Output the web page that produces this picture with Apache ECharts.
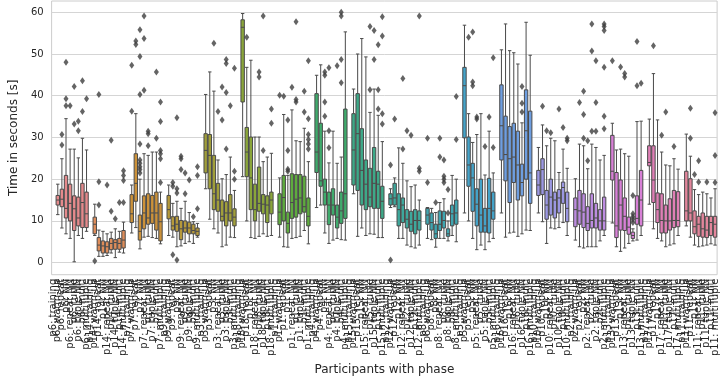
<!DOCTYPE html>
<html>
  <head>
    <meta charset="utf-8" />
    <title>Time per phase</title>
    <script src="https://cdn.jsdelivr.net/npm/echarts@6/dist/echarts.min.js"></script>
  </head>
  <body style="margin: 0">
    <div id="main" style="width: 720px; height: 381px"></div>
    <script type="text/javascript">
      // participants in plot order, phases per participant (first slot has no data)
      const participants = ["p6", "p14", "p7", "p9", "p3", "p18", "p1", "p4", "p15", "p12", "p8", "p5", "p16", "p10", "p2", "p13", "p17", "p11"];
      const phases = ["training", "warm-up", "repeat", "NN", "repeat NN", "tuple", "tuple NN", "multi", "multiTuple"];
      const yTicks = [0, 10, 20, 30, 40, 50, 60];

      // box stats per participant: [lower whisker, Q1, median, Q3, upper whisker]
      const p6Box = [[11.5, 13.8, 15.0, 16.1, 18.8], [8.3, 13.4, 15.2, 17.6, 24.9], [6.9, 10.7, 13.0, 20.9, 34.5], [5.8, 10.0, 14.2, 18.8, 27.2], [0.2, 7.7, 12.9, 16.0, 27.2], [6.5, 8.8, 10.7, 15.7, 25.1], [5.8, 8.4, 14.4, 19.0, 29.8], [7.5, 8.4, 11.7, 16.9, 27.0]];
      const p14Box = [[6.5, 6.9, 9.2, 10.9, 14.0], [1.5, 2.8, 4.2, 6.0, 7.8], [1.5, 2.3, 4.0, 5.2, 7.5], [1.7, 2.3, 3.8, 5.0, 6.9], [2.3, 3.1, 4.6, 5.8, 7.3], [1.2, 3.2, 4.8, 5.5, 8.1], [2.5, 3.2, 4.6, 5.8, 7.5], [2.3, 3.5, 5.4, 7.7, 9.7]];
      const p7Box = [[7.1, 9.6, 11.7, 16.3, 18.6], [8.4, 14.7, 19.0, 26.1, 35.7], [3.3, 5.4, 7.5, 11.4, 20.0], [6.1, 8.1, 11.9, 16.0, 26.1], [6.3, 9.2, 10.7, 16.5, 25.7], [6.0, 9.4, 11.9, 16.1, 26.5], [5.8, 7.8, 11.9, 16.9, 26.5], [4.5, 5.2, 9.8, 14.2, 16.9]];
      const p9Box = [[6.5, 10.5, 12.7, 16.1, 18.6], [6.1, 7.8, 8.8, 11.0, 14.2], [3.8, 7.5, 9.2, 11.1, 14.7], [4.0, 5.5, 8.1, 10.1, 13.0], [4.6, 7.3, 8.3, 10.0, 14.7], [5.0, 6.9, 8.3, 9.7, 12.0], [4.6, 6.9, 7.7, 9.2, 9.8], [6.1, 6.5, 7.5, 8.3, 9.4]];
      const p3Box = [[17.7, 21.5, 26.9, 30.9, 40.3], [10.4, 17.7, 25.7, 30.7, 45.7], [8.1, 12.7, 16.5, 25.7, 41.1], [7.1, 12.3, 15.0, 19.0, 24.6], [3.8, 10.0, 11.1, 15.0, 20.1], [4.2, 8.8, 11.9, 14.6, 21.1], [6.1, 10.0, 11.9, 16.3, 25.3], [6.0, 8.8, 10.9, 12.9, 17.3]];
      const p18Box = [[20.6, 38.5, 56.4, 58.2, 59.7], [10.0, 20.6, 26.5, 32.4, 46.8], [6.0, 12.7, 20.3, 30.1, 48.5], [5.8, 10.0, 12.7, 18.8, 30.1], [6.3, 12.3, 14.2, 22.9, 30.1], [6.9, 11.7, 14.0, 16.3, 24.2], [6.3, 9.6, 13.8, 16.0, 25.3], [6.5, 11.7, 15.0, 16.9, 26.2]];
      const p1Box = [[6.1, 9.1, 12.1, 16.5, 20.3], [3.8, 10.0, 15.6, 20.9, 35.5], [3.7, 7.1, 9.4, 12.1, 20.9], [5.8, 10.6, 14.4, 21.3, 36.6], [6.0, 10.9, 15.2, 21.1, 29.2], [6.3, 11.7, 15.5, 21.1, 29.0], [7.7, 12.1, 13.4, 20.7, 32.2], [4.5, 8.8, 11.1, 15.5, 24.2]];
      const p4Box = [[13.2, 21.6, 26.5, 40.5, 44.9], [13.8, 18.3, 19.6, 33.4, 47.4], [7.1, 13.8, 16.9, 20.0, 31.5], [4.6, 9.1, 13.8, 16.9, 23.9], [5.4, 11.4, 13.8, 17.7, 31.5], [5.8, 8.3, 10.9, 13.8, 23.8], [5.5, 9.4, 12.4, 16.9, 25.3], [5.4, 10.6, 16.5, 36.8, 55.3]];
      const p15Box = [[16.5, 18.6, 27.0, 35.7, 41.6], [6.3, 17.3, 30.9, 40.5, 50.0], [8.3, 13.8, 22.1, 32.1, 53.7], [6.5, 12.7, 18.8, 24.6, 49.3], [6.9, 13.4, 15.7, 22.6, 36.0], [6.8, 13.0, 19.0, 27.6, 41.6], [6.0, 13.0, 18.8, 21.9, 35.3], [6.0, 10.6, 14.7, 18.3, 29.0]];
      const p12Box = [[13.2, 13.8, 15.3, 16.5, 17.7], [13.4, 13.8, 15.5, 19.0, 20.3], [5.8, 8.8, 12.7, 16.5, 27.5], [5.8, 9.6, 13.8, 15.5, 23.8], [4.2, 8.3, 10.4, 12.7, 19.6], [3.8, 7.5, 9.2, 12.3, 18.2], [3.5, 6.9, 10.1, 12.7, 18.6], [4.2, 7.8, 10.1, 12.4, 15.0]];
      const p8Box = [[5.8, 9.2, 11.4, 13.0, 13.2], [5.5, 7.8, 9.6, 11.9, 13.0], [3.7, 5.8, 6.9, 9.2, 12.0], [5.8, 7.7, 9.2, 12.4, 14.4], [5.8, 8.3, 10.1, 12.3, 15.3], [5.2, 6.3, 6.9, 8.1, 10.0], [6.5, 8.8, 11.7, 13.8, 20.9], [5.0, 9.2, 11.9, 15.0, 20.0]];
      const p5Box = [[11.9, 29.9, 42.4, 46.8, 56.9], [10.0, 18.3, 23.4, 30.1, 35.7], [5.8, 12.3, 20.3, 23.8, 28.8], [3.1, 8.8, 14.0, 17.7, 30.7], [4.2, 7.3, 11.4, 20.0, 35.7], [3.1, 7.3, 8.8, 13.0, 21.0], [5.0, 7.1, 13.0, 20.2, 31.5], [5.8, 10.4, 12.4, 16.9, 21.5]];
      const p16Box = [[11.9, 24.6, 32.8, 42.6, 51.0], [6.1, 19.6, 25.9, 35.1, 57.2], [7.1, 14.4, 24.9, 32.6, 50.8], [7.3, 19.2, 25.3, 33.4, 50.3], [6.3, 15.0, 23.4, 31.5, 47.6], [6.9, 16.0, 19.2, 23.6, 33.5], [7.8, 20.0, 31.6, 41.4, 57.6], [7.7, 14.2, 21.5, 36.3, 49.7]];
      const p10Box = [[11.9, 16.1, 18.6, 22.1, 27.6], [9.8, 16.3, 22.3, 24.9, 33.0], [4.6, 10.4, 13.8, 17.3, 28.0], [8.3, 11.4, 15.7, 20.0, 29.8], [8.1, 10.7, 15.0, 16.9, 29.2], [8.4, 11.9, 15.5, 17.5, 21.6], [9.6, 14.2, 18.0, 19.3, 27.2], [6.5, 9.8, 13.0, 16.9, 22.6]];
      const p2Box = [[5.4, 8.6, 12.7, 15.5, 20.1], [3.8, 9.2, 12.4, 17.3, 28.4], [3.5, 8.4, 12.1, 16.5, 28.0], [3.8, 7.7, 9.4, 13.4, 22.5], [3.8, 8.3, 10.1, 16.5, 28.4], [3.8, 8.3, 10.7, 14.2, 27.6], [5.2, 7.8, 10.0, 12.7, 24.6], [6.5, 7.8, 10.0, 15.7, 25.7]];
      const p13Box = [[9.5, 19.8, 21.9, 30.5, 33.4], [3.8, 6.0, 8.8, 21.6, 27.0], [2.7, 7.8, 13.8, 19.8, 27.2], [3.5, 7.7, 11.1, 15.5, 26.1], [4.6, 6.8, 8.5, 10.9, 25.5], [5.2, 5.8, 6.5, 7.3, 8.1], [5.4, 9.2, 10.6, 16.0, 33.8], [6.5, 8.8, 15.0, 22.1, 33.9]];
      const p17Box = [[14.0, 23.2, 24.0, 28.0, 34.4], [8.1, 14.4, 19.8, 28.0, 45.3], [5.8, 9.6, 12.7, 16.7, 34.2], [5.2, 7.1, 10.1, 16.5, 26.5], [3.8, 7.1, 10.0, 13.8, 23.4], [4.2, 7.8, 10.0, 15.3, 23.2], [4.5, 8.4, 10.1, 17.3, 24.9], [6.5, 8.6, 10.1, 17.0, 22.4]];
      const p11Box = [[8.8, 10.0, 12.4, 21.9, 30.8], [6.1, 10.0, 11.9, 20.1, 25.5], [4.2, 6.9, 8.6, 12.4, 17.5], [3.8, 6.3, 9.2, 11.1, 16.3], [4.0, 6.1, 8.1, 11.9, 16.9], [4.2, 6.0, 7.8, 11.1, 16.5], [4.5, 6.5, 9.6, 11.1, 15.5], [4.2, 6.1, 9.2, 11.1, 17.7]];

      // outliers per box
      const p6Out = [[], [28.2, 30.7], [37.6, 39.3, 48.0], [37.6], [33.2, 42.2], [31.6, 33.9], [36.2, 43.6], [39.3]];
      const p14Out = [[0.4], [13.8, 19.4, 40.3], [], [18.6], [12.3, 29.3], [10.5], [14.4], [14.4, 19.7, 20.9, 22.0]];
      const p7Out = [[36.3, 47.3], [52.3, 53.1], [21.5, 22.3, 23.0, 23.8, 24.6, 28.4, 40.3, 49.4, 55.8], [41.3, 53.7, 59.1], [28.0, 30.9, 31.5], [], [29.8, 45.7], [19.2, 24.9, 26.1, 26.9, 33.8, 38.5]];
      const p9Out = [[], [1.9, 18.3, 19.2], [0.6, 16.7, 17.7, 34.7], [22.3, 24.9, 25.5], [16.5, 21.5], [19.8], [11.0], [12.9, 20.9, 23.0]];
      const p3Out = [[], [], [52.6], [36.2], [34.2, 42.1], [27.2, 40.8, 47.7, 48.7], [37.6], [20.0, 21.9, 46.6]];
      const p18Out = [[], [54.0], [], [], [44.5, 45.7], [26.9, 59.1], [], [33.4, 36.8]];
      const p1Out = [[40.1], [39.9], [21.9, 22.4, 26.9, 34.2], [42.0], [38.5, 39.1, 57.7], [], [36.1, 41.1], [27.2, 28.4, 29.5, 30.7, 34.5, 48.4]];
      const p4Out = [[], [], [35.1, 38.5, 44.9, 45.7], [27.5, 31.6, 46.7], [], [47.2], [43.1, 48.7, 59.1, 60.0], []];
      const p15Out = [[], [], [], [], [41.4, 56.6], [48.7, 55.6], [36.8, 41.4, 52.2], [33.2, 35.7, 54.3, 58.9]];
      const p12Out = [[0.6, 23.4], [34.4], [], [27.2, 44.1], [31.6], [30.5], [], [21.9, 22.6, 59.1]];
      const p8Out = [[19.2, 29.8], [], [14.4], [25.3, 29.8], [19.2, 20.0, 20.7, 24.6], [11.9, 17.5], [], [29.5, 39.8]];
      const p5Out = [[], [54.0], [42.4, 43.3, 55.3], [34.4, 34.9], [], [27.8], [34.9], [27.6, 49.1]];
      const p16Out = [[], [], [], [], [], [36.1, 38.2, 42.2], [], []];
      const p10Out = [[], [37.5], [31.6], [31.1], [], [36.8], [32.4], [29.2, 29.8]];
      const p2Out = [[], [38.4], [29.8, 35.5, 41.1], [24.4, 29.2], [31.5, 50.7, 57.2], [31.5, 38.4, 48.4], [], [32.1, 35.1, 46.8, 55.6, 56.6, 57.2]];
      const p13Out = [[48.4], [], [46.9], [44.5, 45.3], [], [9.6, 10.4, 11.0, 11.7, 16.1], [42.4, 53.0], [43.0]];
      const p17Out = [[], [52.0], [], [30.5], [36.1], [], [27.8], []];
      const p11Out = [[], [29.8, 37.0], [21.1], [19.3, 24.4], [], [19.3], [], [19.2, 25.7, 35.9]];

      const allBoxes = [p6Box, p14Box, p7Box, p9Box, p3Box, p18Box, p1Box, p4Box, p15Box, p12Box, p8Box, p5Box, p16Box, p10Box, p2Box, p13Box, p17Box, p11Box];
      const allOut = [p6Out, p14Out, p7Out, p9Out, p3Out, p18Out, p1Out, p4Out, p15Out, p12Out, p8Out, p5Out, p16Out, p10Out, p2Out, p13Out, p17Out, p11Out];

      const colors = ["#e58a8c", "#df8d5a", "#cc923a", "#b6993a", "#a19f3a", "#8aa53a", "#5eab3e", "#3fab6c", "#3da988", "#3da89c", "#3fa6b1", "#44a3c9", "#6e9ee0", "#9b97e2", "#bd8ce0", "#d780d6", "#e07fb6", "#e3869c"];

      const categories = [];
      const boxData = [];
      const outData = [];
      participants.forEach(function (p, i) {
        phases.forEach(function (ph, j) {
          categories.push(p + ": " + ph);
          const idx = categories.length - 1;
          if (j === 0) {
            boxData.push({ value: ["-", "-", "-", "-", "-"] });
            return;
          }
          boxData.push({ value: allBoxes[i][j - 1], itemStyle: { color: colors[i] } });
          allOut[i][j - 1].forEach(function (v) {
            outData.push([idx, v]);
          });
        });
      });

      const textColor = "#262626";
      const chart = echarts.init(document.getElementById("main"));
      chart.setOption({
        animation: false,
        textStyle: { fontFamily: "DejaVu Sans" },
        grid: {
          left: 34,
          right: 2,
          top: 1,
          bottom: 95,
          show: true,
          borderColor: "#cccccc",
          borderWidth: 1,
        },
        xAxis: {
          type: "category",
          data: categories,
          name: "Participants with phase",
          nameLocation: "middle",
          nameGap: 85,
          nameTextStyle: { color: textColor, fontSize: 12 },
          axisLine: { show: false },
          axisTick: { show: false },
          splitLine: { show: false },
          axisLabel: {
            interval: 0,
            rotate: 90,
            fontSize: 10,
            color: textColor,
            margin: 4,
          },
        },
        yAxis: {
          type: "value",
          min: -2.9,
          max: 62.7,
          name: "Time in seconds [s]",
          nameLocation: "middle",
          nameGap: 28,
          nameTextStyle: { color: textColor, fontSize: 12 },
          axisLine: { show: false },
          axisTick: { show: false, customValues: yTicks },
          axisLabel: { customValues: yTicks, fontSize: 10, color: textColor, margin: 8 },
          splitLine: { show: true, lineStyle: { color: "#d5d5d5", width: 1 } },
        },
        series: [
          {
            type: "boxplot",
            data: boxData,
            boxWidth: [3.4, 3.4],
            itemStyle: { borderColor: "#4a4a4a", borderWidth: 1 },
          },
          {
            type: "scatter",
            data: outData,
            symbol: "diamond",
            symbolSize: [5, 7],
            itemStyle: { color: "#3d3d3d" },
            z: 3,
          },
        ],
      });
    </script>
  </body>
</html>
